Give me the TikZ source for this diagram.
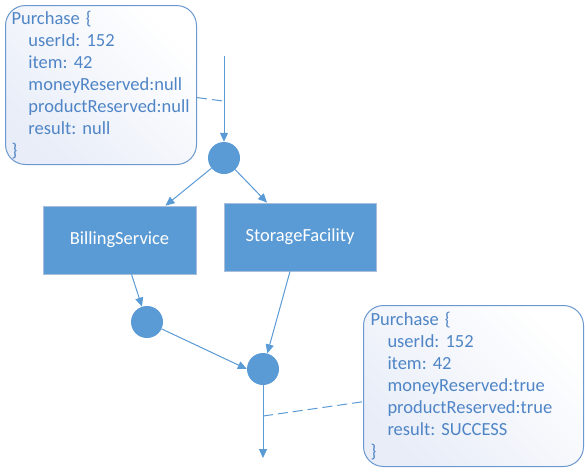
\documentclass[tikz,border=0pt]{standalone}
\usepackage{fontspec}
\setmainfont{Carlito}
\usetikzlibrary{arrows.meta}
\definecolor{nodeblue}{HTML}{5B9BD5}
\definecolor{lineblue}{HTML}{5B9BD5}
\definecolor{txtblue}{HTML}{4F85C6}
\definecolor{callborder}{HTML}{6A98CF}
\definecolor{callfill}{HTML}{E8EDF8}
\definecolor{rectborder}{HTML}{A8BEDA}
\begin{document}
\frenchspacing
\begin{tikzpicture}[x=1pt,y=-1pt,
  font=\fontsize{18.5}{22}\selectfont,
  service/.style={rectangle, fill=nodeblue, draw=rectborder, line width=0.8pt, text=white, minimum width=153pt, minimum height=68pt, inner sep=0pt},
  joint/.style={circle, fill=nodeblue, minimum size=32pt, inner sep=0pt},
  callout/.style={rectangle, rounded corners=20pt, draw=callborder, line width=1pt, top color=white, bottom color=callfill, shading angle=-45, text=txtblue, align=left, anchor=north west, inner ysep=0pt},
  flow/.style={draw=lineblue, line width=1pt, -{Triangle[length=9pt,width=8pt]}},
  link/.style={draw=lineblue, line width=1pt, dash pattern=on 10pt off 5pt}
]
\useasboundingbox[fill=white] (0,0) rectangle (585,474);

\node[callout, text width=179pt, inner xsep=6pt, minimum height=159pt] (box1) at (5,5) {Purchase \{\\
\hspace*{17pt}userId: 152\\
\hspace*{17pt}item: 42\\
\hspace*{17pt}moneyReserved:null\\
\hspace*{17pt}productReserved:null\\
\hspace*{17pt}result: null\\
\}};

\node[callout, text width=206pt, inner xsep=7pt, minimum height=161pt] (box2) at (363,305) {Purchase \{\\
\hspace*{17pt}userId: 152\\
\hspace*{17pt}item: 42\\
\hspace*{17pt}moneyReserved:true\\
\hspace*{17pt}productReserved:true\\
\hspace*{17pt}result: SUCCESS\\
\}};

\node[service] (bill) at (119.5,240) {BillingService};
\node[service, minimum width=152pt] (stor) at (300,237) {StorageFacility};

\node[joint] (c1) at (224,158) {};
\node[joint] (c2) at (147,322) {};
\node[joint] (c3) at (263,369) {};

\coordinate (start) at (224,56);
\coordinate (finish) at (263,458);
\coordinate (d1) at (223,101);
\coordinate (d2) at (263,416);

\draw[flow] (start) -- (c1);
\draw[flow] (c1) -- ([xshift=46pt]bill.north);
\draw[flow] (c1) -- ([xshift=-33pt]stor.north);
\draw[flow] ([xshift=12pt]bill.south) -- (c2);
\draw[flow] ([xshift=-10pt]stor.south) -- (c3);
\draw[flow] (c2) -- (c3.west);
\draw[flow] (c3) -- (finish);
\draw[link] (box1) -- (d1);
\draw[link] (d2) -- (box2);
\end{tikzpicture}
\end{document}
